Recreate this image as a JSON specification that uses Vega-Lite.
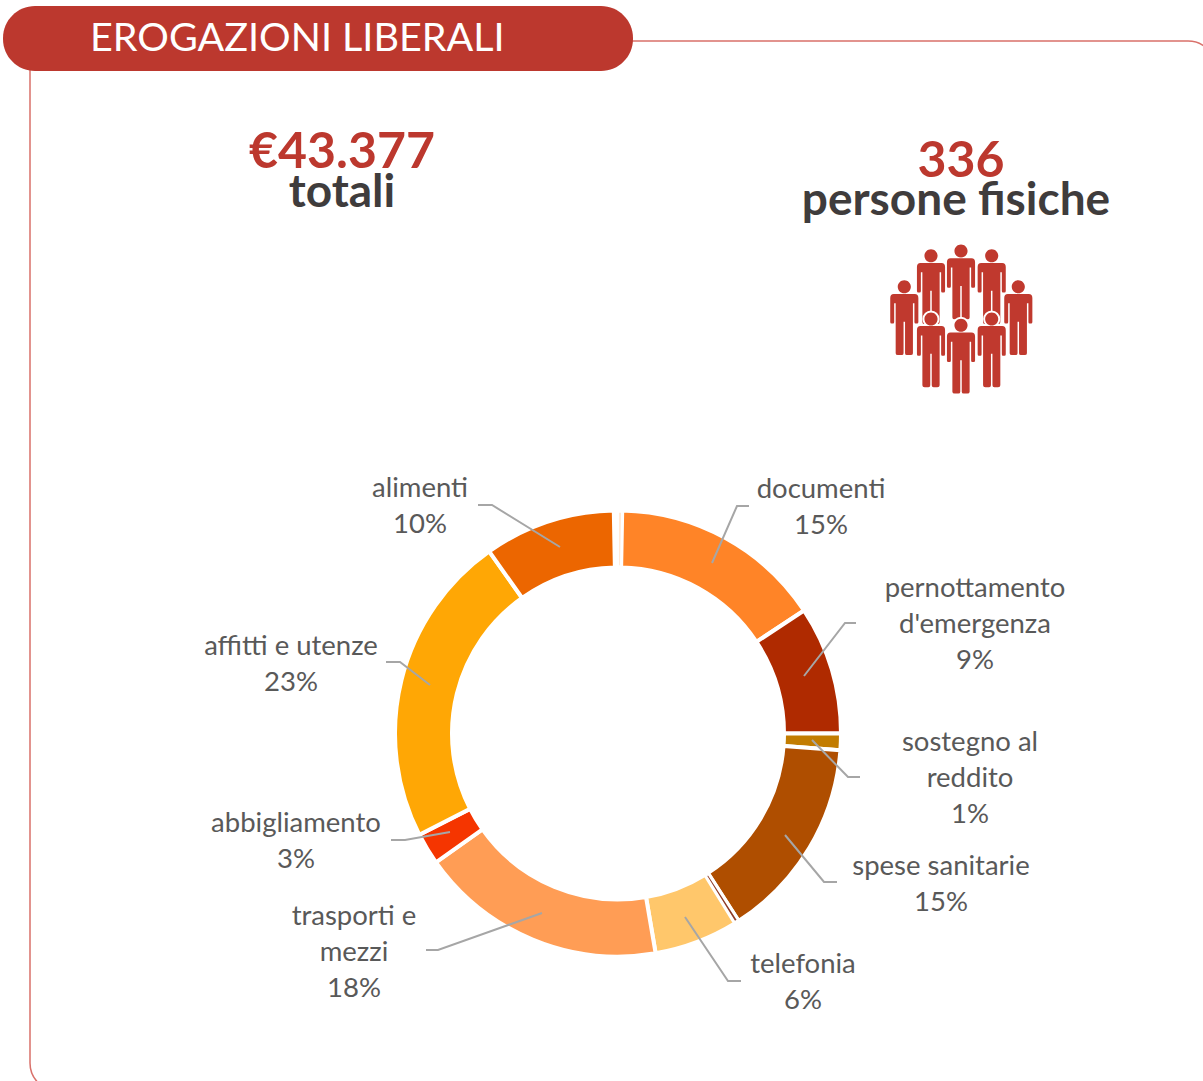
{
"$schema":"https://vega.github.io/schema/vega-lite/v6.json",
"width":1203,"height":1081,"padding":0,"autosize":"none","background":"white",
"config":{"view":{"stroke":null}},
"datasets":{
"slices":[
{"i":1,"voce":"non indicato A","quota":0.3},
{"i":2,"voce":"documenti","quota":15.4},
{"i":3,"voce":"pernottamento d'emergenza","quota":9.3},
{"i":4,"voce":"sostegno al reddito","quota":1.2},
{"i":5,"voce":"spese sanitarie","quota":14.7},
{"i":6,"voce":"non indicato B","quota":0.3},
{"i":7,"voce":"telefonia","quota":6.1},
{"i":8,"voce":"trasporti e mezzi","quota":17.9},
{"i":9,"voce":"abbigliamento","quota":2.3},
{"i":10,"voce":"affitti e utenze","quota":22.7},
{"i":11,"voce":"alimenti","quota":9.5}
],
"callouts":[
{"t":"alimenti\n10%","a":420,"b":497},
{"t":"documenti\n15%","a":821,"b":498},
{"t":"pernottamento\nd'emergenza\n9%","a":975,"b":597},
{"t":"sostegno al\nreddito\n1%","a":970,"b":751},
{"t":"spese sanitarie\n15%","a":941,"b":875},
{"t":"telefonia\n6%","a":803,"b":973},
{"t":"trasporti e\nmezzi\n18%","a":354,"b":925},
{"t":"abbigliamento\n3%","a":296,"b":832},
{"t":"affitti e utenze\n23%","a":291,"b":655}
],
"leaders":[
{"v":"documenti","k":1,"a":712,"b":563},{"v":"documenti","k":2,"a":737,"b":506},{"v":"documenti","k":3,"a":749,"b":506},
{"v":"pernottamento","k":1,"a":804,"b":676},{"v":"pernottamento","k":2,"a":845,"b":623},{"v":"pernottamento","k":3,"a":856,"b":623},
{"v":"sostegno","k":1,"a":812,"b":740},{"v":"sostegno","k":2,"a":848,"b":777},{"v":"sostegno","k":3,"a":860,"b":777},
{"v":"spese","k":1,"a":785,"b":835},{"v":"spese","k":2,"a":824,"b":882},{"v":"spese","k":3,"a":837,"b":882},
{"v":"telefonia","k":1,"a":685,"b":917},{"v":"telefonia","k":2,"a":728,"b":981},{"v":"telefonia","k":3,"a":741,"b":981},
{"v":"trasporti","k":1,"a":542,"b":913},{"v":"trasporti","k":2,"a":438,"b":950},{"v":"trasporti","k":3,"a":426,"b":950},
{"v":"abbigliamento","k":1,"a":450,"b":832},{"v":"abbigliamento","k":2,"a":405,"b":840},{"v":"abbigliamento","k":3,"a":391,"b":840},
{"v":"affitti","k":1,"a":430,"b":685},{"v":"affitti","k":2,"a":400,"b":662},{"v":"affitti","k":3,"a":386,"b":662},
{"v":"alimenti","k":1,"a":560,"b":547},{"v":"alimenti","k":2,"a":492,"b":505},{"v":"alimenti","k":3,"a":478,"b":505}
],
"people":[
{"a":904.3,"b":317.5,"f":0},{"a":1018.3,"b":317.5,"f":0},
{"a":931,"b":286.5,"f":0},{"a":961,"b":281.8,"f":0},{"a":991.7,"b":286.5,"f":0},
{"a":931,"b":349.7,"f":1},{"a":961,"b":356,"f":1},{"a":991.7,"b":349.7,"f":1}
]
},
"layer":[
{"data":{"values":[{"a":30,"a2":1216,"b":41,"b2":1091}]},
 "mark":{"type":"rect","fill":"white","stroke":"#D9706A","strokeWidth":1.5,"cornerRadius":28},
 "encoding":{"x":{"field":"a","type":"quantitative","scale":{"domain":[0,1203],"nice":false,"zero":false},"axis":null},"x2":{"field":"a2"},"y":{"field":"b","type":"quantitative","scale":{"domain":[0,1081],"reverse":true,"nice":false,"zero":false},"axis":null},"y2":{"field":"b2"}}},
{"data":{"values":[{"a":3,"a2":633,"b":6,"b2":71}]},
 "mark":{"type":"rect","fill":"#BC382E","cornerRadius":32},
 "encoding":{"x":{"field":"a","type":"quantitative","scale":{"domain":[0,1203],"nice":false,"zero":false},"axis":null},"x2":{"field":"a2"},"y":{"field":"b","type":"quantitative","scale":{"domain":[0,1081],"reverse":true,"nice":false,"zero":false},"axis":null},"y2":{"field":"b2"}}},
{"data":{"values":[{"t":"EROGAZIONI LIBERALI","a":90,"b":51}]},
 "mark":{"type":"text","font":"Lato","fontSize":39.5,"fill":"white","align":"left","baseline":"alphabetic"},
 "encoding":{"x":{"field":"a","type":"quantitative","scale":{"domain":[0,1203],"nice":false,"zero":false},"axis":null},"y":{"field":"b","type":"quantitative","scale":{"domain":[0,1081],"reverse":true,"nice":false,"zero":false},"axis":null},"text":{"field":"t"}}},
{"data":{"values":[{"t":"€43.377","a":342,"b":168},{"t":"336","a":961,"b":177}]},
 "mark":{"type":"text","font":"Lato","fontWeight":"bold","fontSize":50,"fill":"#BC382E","align":"center","baseline":"alphabetic"},
 "encoding":{"x":{"field":"a","type":"quantitative","scale":{"domain":[0,1203],"nice":false,"zero":false},"axis":null},"y":{"field":"b","type":"quantitative","scale":{"domain":[0,1081],"reverse":true,"nice":false,"zero":false},"axis":null},"text":{"field":"t"}}},
{"data":{"values":[{"t":"totali","a":342,"b":207},{"t":"persone fisiche","a":956,"b":215}]},
 "mark":{"type":"text","font":"Lato","fontWeight":"bold","fontSize":46,"fill":"#3F3C3C","align":"center","baseline":"alphabetic"},
 "encoding":{"x":{"field":"a","type":"quantitative","scale":{"domain":[0,1203],"nice":false,"zero":false},"axis":null},"y":{"field":"b","type":"quantitative","scale":{"domain":[0,1081],"reverse":true,"nice":false,"zero":false},"axis":null},"text":{"field":"t"}}},
{"data":{"name":"people"},
 "transform":[{"filter":"datum.f==0"}],
 "mark":{"type":"point","filled":true,"opacity":1,"fill":"#C0392E","size":5625,"shape":"M-0.175,-0.82 A0.175,0.175 0 1 1 0.175,-0.82 A0.175,0.175 0 1 1 -0.175,-0.82 Z M-0.28,-0.63 L0.28,-0.63 Q0.375,-0.63 0.375,-0.52 L0.375,0.12 Q0.375,0.16 0.34,0.16 L0.3,0.16 Q0.27,0.16 0.27,0.12 L0.27,-0.38 L0.23,-0.38 L0.23,0.95 Q0.23,1 0.17,1 L0.07,1 Q0.02,1 0.02,0.95 L0.02,0.11 L-0.02,0.11 L-0.02,0.95 Q-0.02,1 -0.07,1 L-0.17,1 Q-0.23,1 -0.23,0.95 L-0.23,-0.38 L-0.27,-0.38 L-0.27,0.12 Q-0.27,0.16 -0.3,0.16 L-0.34,0.16 Q-0.375,0.16 -0.375,0.12 L-0.375,-0.52 Q-0.375,-0.63 -0.28,-0.63 Z"},
 "encoding":{"x":{"field":"a","type":"quantitative","scale":{"domain":[0,1203],"nice":false,"zero":false},"axis":null},"y":{"field":"b","type":"quantitative","scale":{"domain":[0,1081],"reverse":true,"nice":false,"zero":false},"axis":null}}},
{"data":{"name":"people"},
 "transform":[{"filter":"datum.f==1"}],
 "mark":{"type":"point","filled":true,"opacity":1,"fill":"white","stroke":"white","strokeWidth":4,"size":5625,"shape":"M-0.175,-0.82 A0.175,0.175 0 1 1 0.175,-0.82 A0.175,0.175 0 1 1 -0.175,-0.82 Z M-0.28,-0.63 L0.28,-0.63 L0.375,-0.52 L0.375,0.16 L0.23,0.16 L0.23,1 L-0.23,1 L-0.23,0.16 L-0.375,0.16 L-0.375,-0.52 Z"},
 "encoding":{"x":{"field":"a","type":"quantitative","scale":{"domain":[0,1203],"nice":false,"zero":false},"axis":null},"y":{"field":"b","type":"quantitative","scale":{"domain":[0,1081],"reverse":true,"nice":false,"zero":false},"axis":null}}},
{"data":{"name":"people"},
 "transform":[{"filter":"datum.f==1"}],
 "mark":{"type":"point","filled":true,"opacity":1,"fill":"#C0392E","size":5625,"shape":"M-0.175,-0.82 A0.175,0.175 0 1 1 0.175,-0.82 A0.175,0.175 0 1 1 -0.175,-0.82 Z M-0.28,-0.63 L0.28,-0.63 Q0.375,-0.63 0.375,-0.52 L0.375,0.12 Q0.375,0.16 0.34,0.16 L0.3,0.16 Q0.27,0.16 0.27,0.12 L0.27,-0.38 L0.23,-0.38 L0.23,0.95 Q0.23,1 0.17,1 L0.07,1 Q0.02,1 0.02,0.95 L0.02,0.11 L-0.02,0.11 L-0.02,0.95 Q-0.02,1 -0.07,1 L-0.17,1 Q-0.23,1 -0.23,0.95 L-0.23,-0.38 L-0.27,-0.38 L-0.27,0.12 Q-0.27,0.16 -0.3,0.16 L-0.34,0.16 Q-0.375,0.16 -0.375,0.12 L-0.375,-0.52 Q-0.375,-0.63 -0.28,-0.63 Z"},
 "encoding":{"x":{"field":"a","type":"quantitative","scale":{"domain":[0,1203],"nice":false,"zero":false},"axis":null},"y":{"field":"b","type":"quantitative","scale":{"domain":[0,1081],"reverse":true,"nice":false,"zero":false},"axis":null}}},
{"data":{"name":"slices"},
 "transform":[{"stack":"quota","sort":[{"field":"i"}],"as":["t0","t1"]}],
 "mark":{"type":"arc","radius":223,"radius2":166,"stroke":"white","strokeWidth":4},
 "encoding":{"x":{"datum":618,"type":"quantitative","scale":{"domain":[0,1203],"nice":false,"zero":false},"axis":null},"y":{"datum":733.5,"type":"quantitative","scale":{"domain":[0,1081],"reverse":true,"nice":false,"zero":false},"axis":null},
  "theta":{"field":"t0","type":"quantitative","scale":{"domain":[0,100]}},"theta2":{"field":"t1"},
  "color":{"field":"voce","type":"nominal","legend":null,"scale":{"domain":["non indicato A","documenti","pernottamento d'emergenza","sostegno al reddito","spese sanitarie","non indicato B","telefonia","trasporti e mezzi","abbigliamento","affitti e utenze","alimenti"],"range":["#FFE6D0","#FF8427","#AF2A00","#C27C00","#AF4E00","#8E3A25","#FFC76B","#FF9D55","#F53500","#FFA705","#EC6600"]}}}},
{"data":{"name":"slices"},
 "transform":[{"stack":"quota","sort":[{"field":"i"}],"as":["t0","t1"]},{"filter":"datum.i==1||datum.i==6"}],
 "mark":{"type":"arc","radius":222,"radius2":167,"stroke":"white","strokeWidth":2.4},
 "encoding":{"x":{"datum":618,"type":"quantitative","scale":{"domain":[0,1203],"nice":false,"zero":false},"axis":null},"y":{"datum":733.5,"type":"quantitative","scale":{"domain":[0,1081],"reverse":true,"nice":false,"zero":false},"axis":null},
  "theta":{"field":"t0","type":"quantitative","scale":{"domain":[0,100]}},"theta2":{"field":"t1"},
  "color":{"field":"voce","type":"nominal","legend":null}}},
{"data":{"name":"leaders"},
 "mark":{"type":"line","stroke":"#A6A6A6","strokeWidth":2},
 "encoding":{"x":{"field":"a","type":"quantitative","scale":{"domain":[0,1203],"nice":false,"zero":false},"axis":null},"y":{"field":"b","type":"quantitative","scale":{"domain":[0,1081],"reverse":true,"nice":false,"zero":false},"axis":null},"detail":{"field":"v"},"order":{"field":"k"}}},
{"data":{"name":"callouts"},
 "mark":{"type":"text","font":"Lato","fontSize":27.5,"fill":"#595959","align":"center","baseline":"alphabetic","lineBreak":"\n","lineHeight":36},
 "encoding":{"x":{"field":"a","type":"quantitative","scale":{"domain":[0,1203],"nice":false,"zero":false},"axis":null},"y":{"field":"b","type":"quantitative","scale":{"domain":[0,1081],"reverse":true,"nice":false,"zero":false},"axis":null},"text":{"field":"t"}}}
]
}
